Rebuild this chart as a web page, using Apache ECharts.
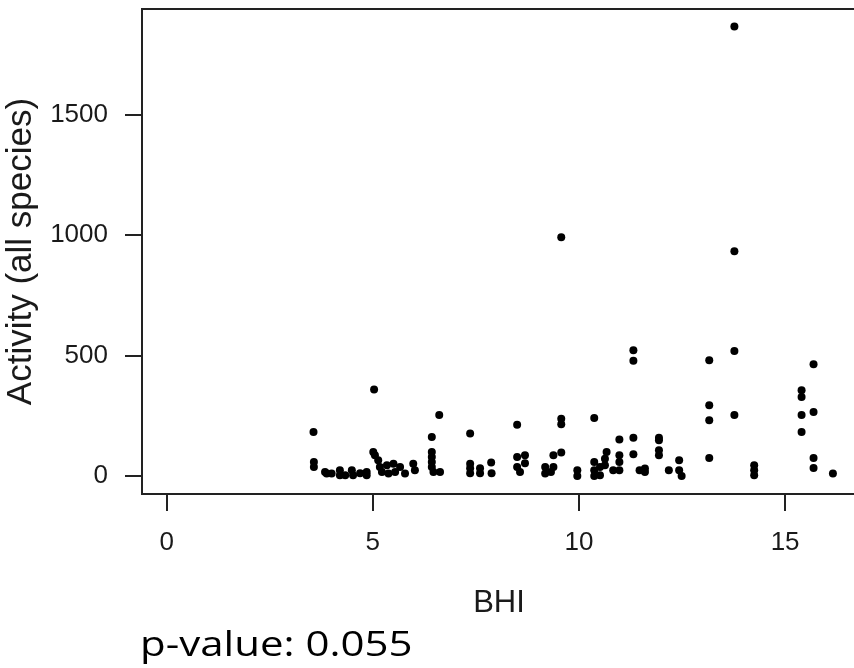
<!DOCTYPE html>
<html>
<head>
<meta charset="utf-8">
<style>
html,body{margin:0;padding:0;background:#fff;}
#chart{width:854px;height:668px;}
</style>
<script src="https://cdn.jsdelivr.net/npm/echarts@6/dist/echarts.min.js"></script>
</head>
<body>
<div id="chart"></div>
<script>
// BHI values (x)
var bhi = [
  3.56,3.57,3.57,3.84,3.88,4.0,4.2,4.2,4.33,4.49,4.52,4.69,4.85,4.85,
  5.03,5.01,5.05,5.13,5.17,5.22,5.34,5.38,5.5,5.54,5.66,5.78,5.98,6.02,
  6.43,6.43,6.43,6.43,6.43,6.47,6.61,6.63,
  7.36,7.36,7.36,7.36,7.6,7.6,7.87,7.88,
  8.5,8.5,8.5,8.57,8.69,8.69,9.18,9.18,9.32,9.38,9.38,
  9.57,9.57,9.57,9.57,9.96,9.96,
  10.37,10.37,10.37,10.37,10.51,10.51,10.67,10.63,10.63,10.83,
  10.98,10.98,10.98,10.98,
  11.32,11.32,11.32,11.32,11.47,11.6,11.6,
  11.94,11.94,11.94,11.94,12.18,12.43,12.43,12.49,
  13.16,13.16,13.16,13.16,13.77,13.77,13.77,13.77,
  14.25,14.25,14.25,
  15.4,15.4,15.4,15.4,15.69,15.69,15.69,15.69,16.16
];
// Activity (all species) values (y)
var activity = [
  183,58,37,17,10,10,24,3,3,24,3,11,17,3,
  359,100,86,65,37,17,44,10,51,17,37,10,51,24,
  162,100,79,58,37,17,253,17,
  176,51,32,11,32,11,56,11,
  213,79,37,17,86,53,37,10,17,86,37,
  991,238,215,97,24,0,
  241,58,24,0,37,3,100,72,44,24,
  151,86,58,24,
  522,478,159,90,24,31,17,
  159,148,107,86,24,65,24,0,
  480,294,231,75,1865,933,519,253,
  44,24,3,
  356,328,253,183,464,266,75,33,10
];
var xTicks = [0, 5, 10, 15];
var yTicks = [0, 500, 1000, 1500];
var xTitle = 'BHI';
var yTitle = 'Activity (all species)';
var note = 'p-value: 0.055';

var points = bhi.map(function (x, i) { return [x, activity[i]]; });

var chart = echarts.init(document.getElementById('chart'), null, {renderer: 'canvas'});
var labelFont = '"Liberation Sans", Arial, sans-serif';
function plain(v) { return String(v); }
chart.setOption({
  animation: false,
  backgroundColor: '#ffffff',
  grid: {
    left: 142, top: 9, right: -2, bottom: 174,
    outerBoundsMode: 'none',
    containLabel: false,
    show: true, borderColor: '#222', borderWidth: 2, backgroundColor: 'transparent'
  },
  xAxis: {
    type: 'value',
    position: 'bottom',
    min: -0.6, max: 16.72,
    splitLine: {show: false},
    axisLine: {show: false, onZero: false},
    axisTick: {show: true, inside: false, length: 17, customValues: xTicks,
      lineStyle: {color: '#222', width: 2}},
    axisLabel: {show: true, customValues: xTicks, margin: 36, fontSize: 26,
      color: '#1a1a1a', fontFamily: labelFont, formatter: plain},
    name: xTitle, nameLocation: 'middle', nameGap: 94,
    nameTextStyle: {fontSize: 31, color: '#1a1a1a', fontFamily: labelFont}
  },
  yAxis: {
    type: 'value',
    position: 'left',
    min: -74.8, max: 1938,
    splitLine: {show: false},
    axisLine: {show: false, onZero: false},
    axisTick: {show: true, inside: false, length: 17, customValues: yTicks,
      lineStyle: {color: '#222', width: 2}},
    axisLabel: {show: true, customValues: yTicks, margin: 34, fontSize: 26,
      color: '#1a1a1a', fontFamily: labelFont, formatter: plain},
    name: yTitle, nameLocation: 'middle', nameGap: 96, nameRotate: 90,
    nameTextStyle: {fontSize: 35, color: '#1a1a1a', fontFamily: labelFont}
  },
  series: [{
    type: 'scatter',
    data: points,
    symbol: 'circle',
    symbolSize: 8,
    itemStyle: {color: '#000', opacity: 1},
    silent: true
  }],
  graphic: [{
    type: 'text',
    x: 140, y: 629,
    scaleX: 1.2,
    style: {
      text: note,
      font: '35px "Open Sans", "Noto Sans", sans-serif',
      fill: '#000',
      verticalAlign: 'top'
    }
  }]
});
</script>
</body>
</html>
